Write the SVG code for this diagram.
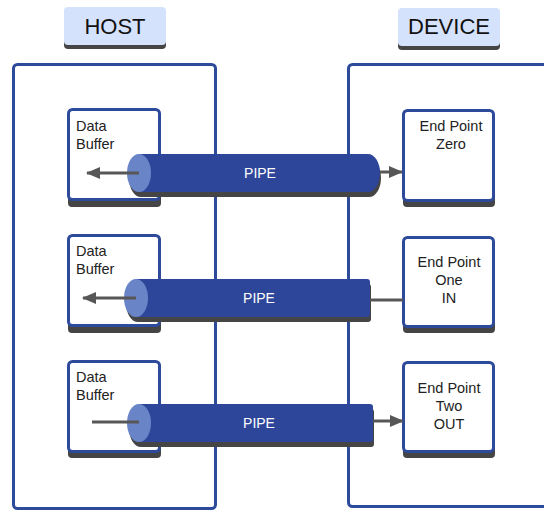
<svg xmlns="http://www.w3.org/2000/svg" width="544" height="513" viewBox="0 0 544 513">
<defs>
<style>
.title{font-family:"Liberation Sans",Arial,sans-serif;font-size:22px;fill:#111;text-anchor:middle}
.lbl{font-family:"Liberation Sans",Arial,sans-serif;font-size:14.5px;fill:#222}
.ctr{text-anchor:middle}
.pipetxt{font-family:"Liberation Sans",Arial,sans-serif;font-size:14px;fill:#fff;text-anchor:middle}
.cont{fill:#fff;stroke:#2d4a9b;stroke-width:3}
.box{fill:#fff;stroke:#2d4a9b;stroke-width:3}
.shadow{fill:#454545}
.tag{fill:#d5e2fb}
.pipe{fill:#2e4699}
.cap{fill:#6a84c8}
.conn{stroke:#575757;stroke-width:3;fill:none}
</style>
<marker id="ah" viewBox="0 0 14 12" markerWidth="14" markerHeight="12" refX="13" refY="6" orient="auto" markerUnits="userSpaceOnUse">
<path d="M0,0 L14,6 L0,12 Z" fill="#575757"/>
</marker>
</defs>
<rect width="544" height="513" fill="#fff"/>

<g id="host-label">
<rect class="shadow" x="64" y="11" width="102" height="38" rx="4"/>
<rect class="tag" x="64" y="7" width="102" height="38" rx="4"/>
<text class="title" x="115" y="34">HOST</text>
</g>
<g id="device-label">
<rect class="shadow" x="398" y="12" width="102" height="38" rx="4"/>
<rect class="tag" x="398" y="8" width="102" height="38" rx="4"/>
<text class="title" x="449" y="34">DEVICE</text>
</g>

<g id="host">
<rect class="cont" x="13.5" y="64.5" width="202" height="444" rx="4"/>
</g>
<g id="device">
<rect class="cont" x="348.5" y="64.5" width="220" height="442" rx="4"/>
</g>

<g id="buffer1">
<rect class="shadow" x="68" y="114" width="93" height="93" rx="4"/>
<rect class="box" x="68.5" y="109.5" width="91" height="90" rx="4"/>
<text class="lbl" x="76" y="131">Data</text>
<text class="lbl" x="76" y="149">Buffer</text>
</g>
<g id="buffer2">
<rect class="shadow" x="68" y="240" width="93" height="93" rx="4"/>
<rect class="box" x="68.5" y="235.5" width="91" height="90" rx="4"/>
<text class="lbl" x="76" y="256">Data</text>
<text class="lbl" x="76" y="274">Buffer</text>
</g>
<g id="buffer3">
<rect class="shadow" x="68" y="366" width="93" height="92" rx="4"/>
<rect class="box" x="68.5" y="361.5" width="91" height="90" rx="4"/>
<text class="lbl" x="76" y="382">Data</text>
<text class="lbl" x="76" y="400">Buffer</text>
</g>

<g id="ep0">
<rect class="shadow" x="403" y="115" width="92" height="92" rx="4"/>
<rect class="box" x="403.5" y="110.5" width="90" height="90" rx="4"/>
<text class="lbl ctr" x="451" y="131">End Point</text>
<text class="lbl ctr" x="451" y="149">Zero</text>
</g>
<g id="ep1">
<rect class="shadow" x="403" y="242" width="92" height="91" rx="4"/>
<rect class="box" x="403.5" y="237.5" width="90" height="89" rx="4"/>
<text class="lbl ctr" x="449" y="267">End Point</text>
<text class="lbl ctr" x="449" y="285">One</text>
<text class="lbl ctr" x="449" y="303">IN</text>
</g>
<g id="ep2">
<rect class="shadow" x="403" y="367" width="92" height="91" rx="4"/>
<rect class="box" x="403.5" y="362.5" width="90" height="89" rx="4"/>
<text class="lbl ctr" x="449" y="393">End Point</text>
<text class="lbl ctr" x="449" y="411">Two</text>
<text class="lbl ctr" x="449" y="429">OUT</text>
</g>

<g id="pipe1">
<path class="shadow" d="M141,159 H369 A12,19 0 0 1 369,197 H141 A12,19 0 0 1 141,159 Z"/>
<path class="pipe" d="M139,154 H368 A12,19 0 0 1 368,192 H139 Z"/>
<ellipse class="cap" cx="139" cy="173" rx="12" ry="19"/>
<text class="pipetxt" x="260" y="178">PIPE</text>
</g>
<g id="pipe2">
<path class="shadow" d="M138,284 H368 Q371,284 371,287 V319 Q371,322 368,322 H138 A12,19 0 0 1 138,284 Z"/>
<path class="pipe" d="M136,279 H367 Q370,279 370,282 V314 Q370,317 367,317 H136 Z"/>
<ellipse class="cap" cx="136" cy="298" rx="12" ry="19"/>
<text class="pipetxt" x="259" y="303">PIPE</text>
</g>
<g id="pipe3">
<path class="shadow" d="M141,409 H371 Q374,409 374,412 V444 Q374,447 371,447 H141 A12,19 0 0 1 141,409 Z"/>
<path class="pipe" d="M139,404 H370 Q373,404 373,407 V439 Q373,442 370,442 H139 Z"/>
<ellipse class="cap" cx="139" cy="423" rx="12" ry="19"/>
<text class="pipetxt" x="259" y="428">PIPE</text>
</g>

<g id="connectors">
<line class="conn" x1="139" y1="173" x2="87" y2="173" marker-end="url(#ah)"/>
<line class="conn" x1="380" y1="172" x2="402" y2="172" marker-end="url(#ah)"/>
<line class="conn" x1="136" y1="298" x2="83" y2="298" marker-end="url(#ah)"/>
<line class="conn" x1="370" y1="300" x2="403" y2="300"/>
<line class="conn" x1="139" y1="422" x2="92" y2="422"/>
<line class="conn" x1="373" y1="421" x2="403" y2="421" marker-end="url(#ah)"/>
</g>
</svg>
